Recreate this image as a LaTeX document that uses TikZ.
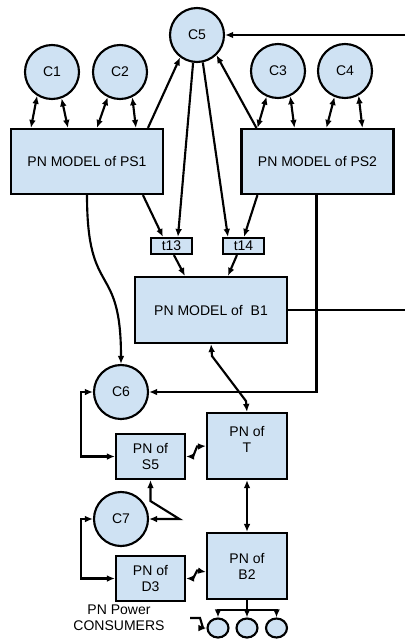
\documentclass[tikz,border=0pt]{standalone}
\usepackage{fontspec}
\setmainfont{Liberation Sans}
\usetikzlibrary{arrows.meta,calc,shapes.geometric}
\definecolor{pnblue}{RGB}{207,226,243}
\begin{document}
\begin{tikzpicture}[x=0.75pt, y=-0.75pt, line width=1.6pt,
    font=\fontsize{10.5}{12}\selectfont]
    \tikzstyle{pnbox}=[draw, fill=pnblue, rectangle, inner sep=0pt, align=center]
    \tikzstyle{cnode}=[draw, fill=pnblue, circle, inner sep=0pt, minimum size=40.5pt]
    \tikzstyle{cons}=[draw, fill=pnblue, ellipse, inner sep=0pt, minimum width=15.75pt, minimum height=14.25pt]
    \tikzstyle{link}=[-{Latex[length=6pt,width=5pt]}]
    \tikzstyle{dlink}=[{Latex[length=6pt,width=5pt]}-{Latex[length=6pt,width=5pt]}]
    \useasboundingbox (0,0) rectangle (405,639);
    % places
    \node[cnode] (c5) at (197,35) {C5};
    \node[cnode] (c1) at (52,72) {C1};
    \node[cnode] (c2) at (120,72) {C2};
    \node[cnode] (c3) at (278,71) {C3};
    \node[cnode] (c4) at (345,71) {C4};
    \node[cnode] (c6) at (121,392) {C6};
    \node[cnode] (c7) at (121,519) {C7};
    % models
    \node[pnbox, minimum width=114pt, minimum height=48.75pt] (ps1) at (87,161.5) {PN MODEL of PS1};
    \node[pnbox, minimum width=114pt, minimum height=48.75pt] (ps2) at (317.5,161.5) {PN MODEL of PS2};
    \node[pnbox, minimum width=30.75pt, minimum height=12pt] (t13) at (171.5,246) {t13};
    \node[pnbox, minimum width=30.75pt, minimum height=12pt] (t14) at (243.5,246) {t14};
    \node[pnbox, minimum width=114pt, minimum height=49.5pt] (b1) at (211,310) {PN MODEL of~ B1};
    \node[pnbox, minimum width=60pt, minimum height=49.5pt,
      label={[align=center, yshift=5pt]center:PN of\\T}] (t) at (247,446) {};
    \node[pnbox, minimum width=51.75pt, minimum height=33.75pt] (s5) at (150.5,456.5) {PN of\\S5};
    \node[pnbox, minimum width=51.75pt, minimum height=33.75pt] (d3) at (150.5,578.5) {PN of\\D3};
    \node[pnbox, minimum width=60pt, minimum height=49.5pt] (b2) at (247,566) {PN of\\B2};
    \node[cons] (con1) at (218,628) {};
    \node[cons] (con2) at (247,628) {};
    \node[cons] (con3) at (276.5,628) {};
    \node[align=center] (pc) at (119,618) {PN Power\\CONSUMERS};
    \coordinate (c5in) at (405,35);
    \coordinate (b1out) at (405,310);
    % top part
    \draw[link] (c5in) -- (c5.east);
    \draw[dlink] ($(ps1.north west)+(21,0)$) -- (c1.238);
    \draw[dlink] ($(ps1.north west)+(58,0)$) -- (c1.290);
    \draw[dlink] ($(ps1.north west)+(87,0)$) -- (c2.244);
    \draw[dlink] ($(ps1.north west)+(126,0)$) -- (c2.296);
    \draw[dlink] ($(ps2.north west)+(17,0)$) -- (c3.246);
    \draw[dlink] ($(ps2.north west)+(54,0)$) -- (c3.296);
    \draw[dlink] ($(ps2.north west)+(86,0)$) -- (c4.248);
    \draw[dlink] ($(ps2.north west)+(122,0)$) -- (c4.299);
    \draw[link] ($(ps1.north west)+(138,0)$) -- (c5.233);
    \draw[link] ($(ps2.north west)+(16,0)$) -- (c5.314);
    \draw[link] (c5.262) -- ($(t13.north west)+(28,0)$);
    \draw[link] (c5.282) -- ($(t14.north west)+(6,0)$);
    \draw[link] ($(ps1.south west)+(133,0)$) -- ($(t13.north west)+(13,0)$);
    \draw[link] ($(ps2.south west)+(17,0)$) -- ($(t14.north west)+(22,0)$);
    \draw[link] ($(t13.south west)+(24,0)$) -- ($(b1.north west)+(51,0)$);
    \draw[link] ($(t14.south west)+(15,0)$) -- ($(b1.north west)+(94,0)$);
    \draw (b1.east) -- (b1out);
    % lower part
    \draw[link] ($(ps2.south west)+(76,0)$) |- (c6.east);
    \draw[link] (ps1.south) .. controls (87,300) and (121,260) .. (c6.north);
    \draw[dlink] (b1.south) -- ++(1,12) -- ++(34,45) -- (t.north);
    \draw[dlink] (t.south) -- (b2.north);
    \draw[dlink] (s5.west) -- ++(-34,0) |- (c6.west);
    \draw[dlink] (s5.east) -- ++(7,0) -- ++(4,-10) -- (t.west);
    \draw[dlink] (s5.south) -- ++(0,21) -- ++(29,18) -- (c7.east);
    \draw[dlink] (c7.west) -- ++(-12,0) |- (d3.west);
    \draw[dlink] (d3.east) -- ++(7,0) -- ++(4,-8) -- ($(b2.west)+(0,6)$);
    \draw (b2.south) -- ++(0,10) coordinate (split);
    \draw[link] (split) -| (con1.north);
    \draw[link] (split) -- (con2.north);
    \draw[link] (split) -| (con3.north);
    \draw[link] ([xshift=15pt]pc.east) -- ++(10,0) -- ++(3,10) -- (con1.west);
\end{tikzpicture}
\end{document}
